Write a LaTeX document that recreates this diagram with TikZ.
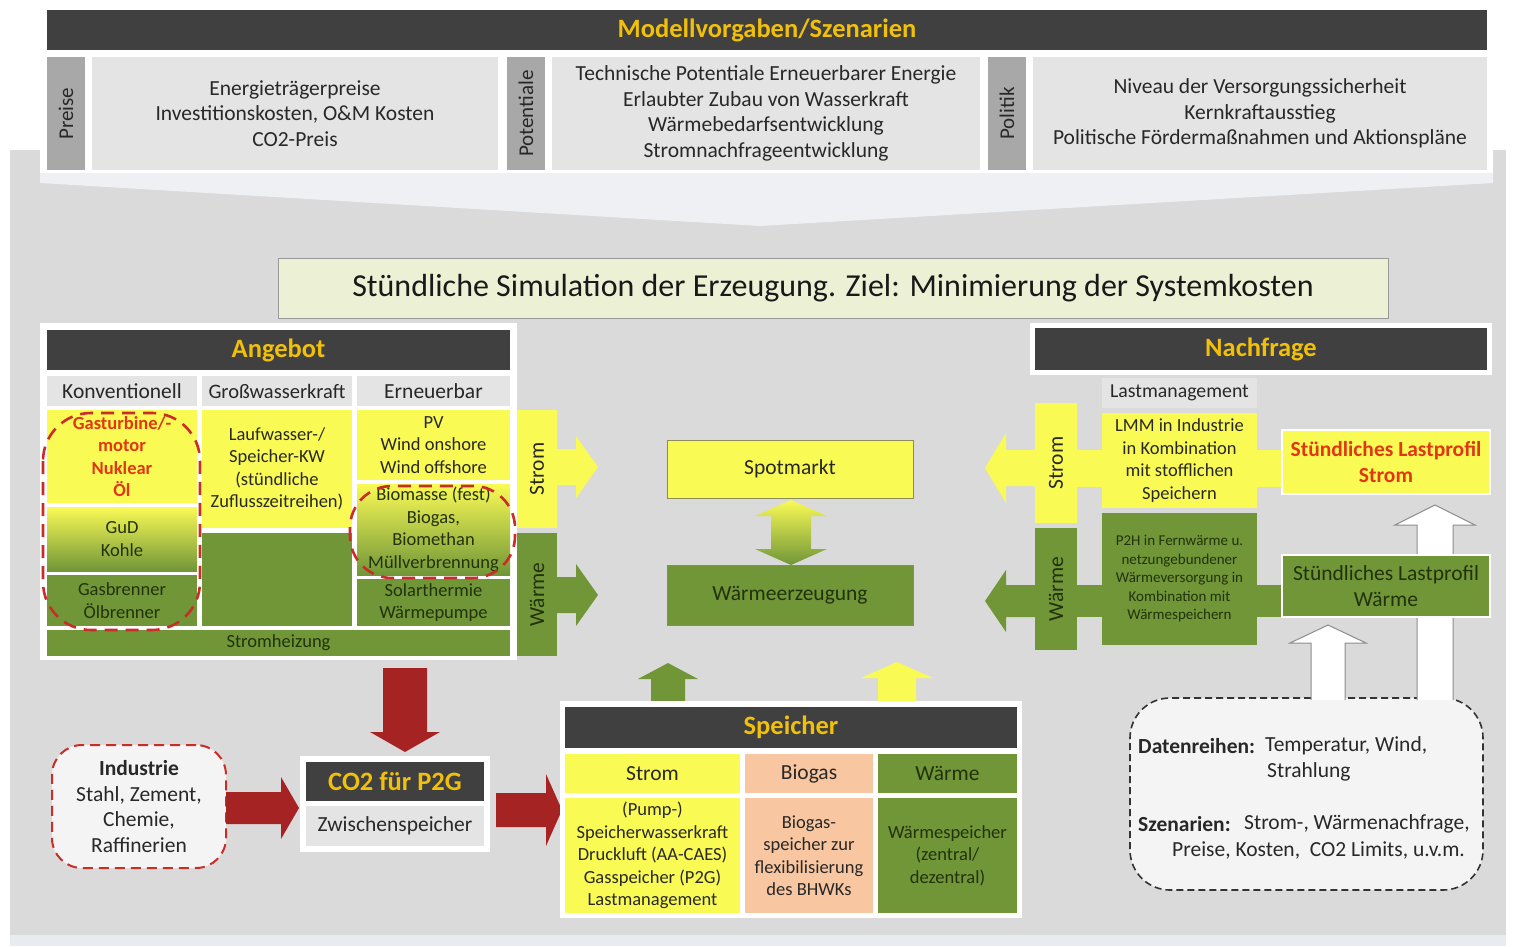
\documentclass[tikz,border=0pt]{standalone}
\usepackage{fontspec}
\setmainfont{Carlito}
\usetikzlibrary{calc}
\definecolor{ylw}{RGB}{250,250,85}
\definecolor{grn}{RGB}{112,150,56}
\definecolor{drk}{RGB}{64,64,64}
\definecolor{gold}{RGB}{240,192,10}
\definecolor{lgr}{RGB}{228,228,228}
\definecolor{tabg}{RGB}{168,168,168}
\definecolor{bggr}{RGB}{218,218,218}
\definecolor{bstrip}{RGB}{232,236,240}
\definecolor{wedge}{RGB}{238,240,243}
\definecolor{peach}{RGB}{248,198,160}
\definecolor{rd}{RGB}{165,35,35}
\definecolor{rdd}{RGB}{200,45,40}
\definecolor{rtxt}{RGB}{225,55,20}
\definecolor{txt}{RGB}{40,40,40}
\definecolor{gtxt}{RGB}{35,50,12}
\definecolor{ttl}{RGB}{236,240,212}
\definecolor{dbox}{RGB}{244,244,244}
\newcommand\fA{\fontsize{21.5}{25.7}\selectfont}
\newcommand\fB{\fontsize{18.5}{22.5}\selectfont}
\newcommand\fC{\fontsize{15}{18.5}\selectfont}
\newcommand\fH{\fontsize{26.5}{30}\selectfont\bfseries}
\newcommand\bx[7]{\node[#1, minimum width={(#5)-(#3)}, minimum height={(#6)-(#4)}, inner sep=0pt, align=center] (#2) at ({((#3)+(#5))/2},{((#4)+(#6))/2}) {#7};}
% right arrow: style, xstart, xtip, yc, shaft half, head half, head length
\newcommand\rarr[7]{\path[#1] (#2,{#4-#5}) -- ({#3-#7},{#4-#5}) -- ({#3-#7},{#4-#6}) -- (#3,#4) -- ({#3-#7},{#4+#6}) -- ({#3-#7},{#4+#5}) -- (#2,{#4+#5}) -- cycle;}
% left arrow: style, xtip, xend, yc, sh, hh, hl
\newcommand\larr[7]{\path[#1] (#3,{#4-#5}) -- ({#2+#7},{#4-#5}) -- ({#2+#7},{#4-#6}) -- (#2,#4) -- ({#2+#7},{#4+#6}) -- ({#2+#7},{#4+#5}) -- (#3,{#4+#5}) -- cycle;}
% up arrow: style, xc, ybot, ytip, sh, hh, hl
\newcommand\uarr[7]{\path[#1] ({#2-#5},#3) -- ({#2-#5},{#4+#7}) -- ({#2-#6},{#4+#7}) -- (#2,#4) -- ({#2+#6},{#4+#7}) -- ({#2+#5},{#4+#7}) -- ({#2+#5},#3) -- cycle;}
% down arrow: style, xc, ytop, ytip, sh, hh, hl
\newcommand\darr[7]{\path[#1] ({#2-#5},#3) -- ({#2-#5},{#4-#7}) -- ({#2-#6},{#4-#7}) -- (#2,#4) -- ({#2+#6},{#4-#7}) -- ({#2+#5},{#4-#7}) -- ({#2+#5},#3) -- cycle;}
% hollow up arrow, open at bottom: xc, ybot, ytip, sh, hh, hl
\newcommand\hollowup[6]{\fill[white] ({#1-#4},#2) -- ({#1-#4},{#3+#6}) -- ({#1-#5},{#3+#6}) -- (#1,#3) -- ({#1+#5},{#3+#6}) -- ({#1+#4},{#3+#6}) -- ({#1+#4},#2) -- cycle;
\draw[black!45, line width=1pt] ({#1-#4},#2) -- ({#1-#4},{#3+#6}) -- ({#1-#5},{#3+#6}) -- (#1,#3) -- ({#1+#5},{#3+#6}) -- ({#1+#4},{#3+#6}) -- ({#1+#4},#2);}
\begin{document}
\begin{tikzpicture}[x=1pt,y=-1pt,
  hdr/.style={fill=drk, text=gold, font=\fH},
  tab/.style={fill=tabg},
  cellg/.style={fill=lgr, text=txt, font=\fA},
  yc/.style={fill=ylw, text=txt, font=\fB},
  gc/.style={fill=grn, text=gtxt, font=\fB},
  grad/.style={top color=ylw, bottom color=grn, text=gtxt, font=\fB},
  vlab/.style={rotate=90, font=\fA},
  whiteframe/.style={fill=white},
  mbox/.style={draw={rgb,255:red,140;green,140;blue,90}, line width=0.8pt, font=\fA},
  reddash/.style={draw=rdd, line width=2.6pt, dash pattern=on 13pt off 8pt},
  redarrow/.style={fill=rd},
  ylwarrow/.style={fill=ylw},
  grnarrow/.style={fill=grn},
]
\useasboundingbox (0,0) rectangle (1516,946);
% backgrounds
\fill[white] (0,0) rectangle (1516,946);
\fill[bggr] (10,150) rectangle (1506,935);
\fill[bstrip] (10,935) rectangle (1506,946);
\fill[white] (40,52) rectangle (1493,173);
\fill[wedge] (40,173) -- (1493,173) -- (1493,183) -- (760,226) -- (40,183) -- cycle;

% ---- top: Modellvorgaben
\bx{hdr}{mv}{47}{10}{1487}{50}{Modellvorgaben/Szenarien}
\bx{tab}{tpreise}{47}{57}{85}{170}{}
\node[vlab, text=txt, font=\fontsize{21}{24}\selectfont] (lpreise) at (tpreise) {Preise};
\bx{cellg}{cpreise}{92}{57}{498}{170}{Energieträgerpreise\\Investitionskosten, O\&M Kosten\\CO2-Preis}
\bx{tab}{tpot}{507}{57}{545}{170}{}
\node[vlab, text=txt, font=\fontsize{21}{24}\selectfont] (lpot) at (tpot) {Potentiale};
\bx{cellg}{cpot}{552}{57}{980}{170}{Technische Potentiale Erneuerbarer Energie\\Erlaubter Zubau von Wasserkraft\\Wärmebedarfsentwicklung\\Stromnachfrageentwicklung}
\bx{tab}{tpol}{988}{57}{1026}{170}{}
\node[vlab, text=txt, font=\fontsize{21}{24}\selectfont] (lpol) at (tpol) {Politik};
\bx{cellg}{cpol}{1033}{57}{1487}{170}{Niveau der Versorgungssicherheit\\Kernkraftausstieg\\Politische Fördermaßnahmen und Aktionspläne}

% ---- title
\bx{fill=ttl, draw=black!40, line width=0.8pt, text=black!90, font=\fontsize{32}{36}\selectfont}{title}{278}{258}{1388}{318}{Stündliche Simulation der Erzeugung. Ziel: Minimierung der Systemkosten}

% ---- Angebot
\bx{whiteframe}{angframe}{40}{323}{517}{660}{}
\bx{hdr}{angebot}{47}{330}{510}{370}{Angebot}
\bx{cellg}{konv}{47}{376}{197}{406}{Konventionell}
\bx{cellg, font=\fontsize{20.5}{24}\selectfont}{gross}{202}{376}{352}{406}{Großwasserkraft}
\bx{cellg}{erneu}{357}{376}{510}{406}{Erneuerbar}
\bx{yc, text=rtxt, font=\fB\bfseries}{k1}{47}{410}{197}{503}{Gasturbine/-\\motor\\Nuklear\\Öl}
\bx{grad}{k2}{47}{507}{197}{571}{GuD\\Kohle}
\bx{gc}{k3}{47}{575}{197}{626}{Gasbrenner\\Ölbrenner}
\bx{yc}{g1}{202}{410}{352}{528}{Laufwasser-/\\Speicher-KW\\(stündliche\\Zuflusszeitreihen)}
\bx{gc}{g2}{202}{533}{352}{626}{}
\bx{yc}{e1}{357}{410}{510}{480}{PV\\Wind onshore\\Wind offshore}
\bx{grad}{e2}{357}{484}{510}{575}{Biomasse (fest)\\Biogas,\\Biomethan\\Müllverbrennung}
\bx{gc}{e3}{357}{579}{510}{626}{Solarthermie\\Wärmepumpe}
\bx{gc}{sheiz}{47}{630}{510}{656}{Stromheizung}
\bx{fill=ylw}{astrom}{517}{410}{557}{528}{}
\node[vlab, text=txt] (astroml) at (astrom) {Strom};
\bx{fill=grn}{awaerme}{517}{533}{557}{656}{}
\node[vlab, text=gtxt] (awaermel) at (awaerme) {Wärme};
\draw[reddash, rounded corners=48pt] (43,413) rectangle (200,630);
\draw[reddash, rounded corners=42pt] (350,486) rectangle (515,578);

% ---- middle
\bx{mbox, fill=ylw, text=txt}{spot}{667}{440}{913}{498}{Spotmarkt}
\bx{mbox, fill=grn, text=gtxt}{wez}{667}{565}{913}{625}{Wärmeerzeugung}
\rarr{ylwarrow}{557}{598}{467}{18}{31}{22}
\rarr{grnarrow}{557}{598}{595}{18}{31}{22}
\path[top color=ylw, bottom color=grn] (771,516) -- (755,516) -- (791,500) -- (827,516) -- (811,516) -- (811,549) -- (827,549) -- (791,565) -- (755,549) -- (771,549) -- cycle;

% ---- Nachfrage
\bx{whiteframe}{nachframe}{1030}{323}{1492}{375}{}
\bx{hdr}{nachfrage}{1035}{328}{1487}{370}{Nachfrage}
\bx{cellg, font=\fontsize{19.8}{22}\selectfont}{lastm}{1102}{378}{1257}{408}{Lastmanagement}
\larr{ylwarrow}{985}{1036}{468}{18}{35}{21}
\larr{grnarrow}{985}{1036}{601}{16}{31}{21}
\fill[ylw] (1077,450) rectangle (1102,487);
\fill[ylw] (1257,450) rectangle (1282,487);
\fill[grn] (1077,585) rectangle (1102,617);
\fill[grn] (1257,585) rectangle (1282,617);
\bx{fill=ylw}{nstrom}{1035}{403}{1077}{523}{}
\node[vlab, text=txt] (nstroml) at (nstrom) {Strom};
\bx{fill=grn}{nwaerme}{1035}{528}{1077}{650}{}
\node[vlab, text=gtxt] (nwaermel) at (nwaerme) {Wärme};
\bx{yc}{lmm}{1102}{413}{1257}{508}{LMM in Industrie\\in Kombination\\mit stofflichen\\Speichern}
\bx{gc, font=\fC}{p2h}{1102}{513}{1257}{645}{P2H in Fernwärme u.\\netzungebundener\\Wärmeversorgung in\\Kombination mit\\Wärmespeichern}

% data box and hollow arrows
\bx{draw=black!80, dashed, line width=1.6pt, dash pattern=on 7pt off 4pt, rounded corners=40pt, fill=dbox}{data}{1130}{698}{1483}{890}{}
\hollowup{1435}{700}{505}{18}{40}{20}
\hollowup{1328}{700}{625}{17}{38}{18}
\bx{fill=ylw, draw=white, line width=2pt, text=rtxt, font=\fA\bfseries}{lpstrom}{1282}{430}{1490}{494}{Stündliches Lastprofil\\Strom}
\bx{fill=grn, draw=white, line width=2pt, text=gtxt, font=\fA}{lpwaerme}{1282}{555}{1490}{617}{Stündliches Lastprofil\\Wärme}
\begin{scope}[every node/.style={anchor=west, text=txt, font=\fontsize{21.5}{24}\selectfont, inner sep=0pt}]
\node (dr1) at (1138,746) {\bfseries Datenreihen:};
\node (dr2) at (1265,746) {Temperatur, Wind,};
\node (dr3) at (1267,772) {Strahlung};
\node (sz1) at (1138,824) {\bfseries Szenarien:};
\node (sz2) at (1244,824) {Strom-, Wärmenachfrage,};
\node (sz3) at (1172,850) {Preise, Kosten,\ \ CO2 Limits, u.v.m.};
\end{scope}

% ---- bottom left: Industrie / CO2
\bx{draw=rdd, line width=2pt, dash pattern=on 10pt off 6pt, rounded corners=30pt, fill=dbox, text=txt, font=\fA}{ind}{52}{745}{226}{868}{\textbf{Industrie}\\Stahl, Zement,\\Chemie,\\Raffinerien}
\bx{whiteframe}{co2frame}{300}{756}{490}{852}{}
\bx{hdr}{co2}{306}{762}{484}{801}{CO2 für P2G}
\bx{cellg}{zw}{306}{806}{484}{846}{Zwischenspeicher}
\darr{redarrow}{405}{668}{752}{22}{35}{20}
\rarr{redarrow}{226}{299}{808}{16}{31}{18}
\rarr{redarrow}{496}{562}{810}{17}{36}{16}

% ---- Speicher
\uarr{grnarrow}{668}{702}{663}{17}{30}{16}
\uarr{ylwarrow}{897}{702}{662}{19}{36}{16}
\bx{whiteframe}{spframe}{560}{701}{1022}{918}{}
\bx{hdr}{speicher}{565}{707}{1017}{748}{Speicher}
\bx{fill=ylw, text=txt, font=\fA}{sph1}{565}{754}{740}{793}{Strom}
\bx{fill=peach, text=txt, font=\fA}{sph2}{745}{754}{873}{793}{Biogas}
\bx{fill=grn, text=gtxt, font=\fA}{sph3}{878}{754}{1017}{793}{Wärme}
\bx{yc}{spc1}{565}{798}{740}{913}{(Pump-)\\Speicherwasserkraft\\Druckluft (AA-CAES)\\Gasspeicher (P2G)\\Lastmanagement}
\bx{fill=peach, text=txt, font=\fB}{spc2}{745}{798}{873}{913}{Biogas-\\speicher zur\\flexibilisierung\\des BHWKs}
\bx{gc}{spc3}{878}{798}{1017}{913}{Wärmespeicher\\(zentral/\\dezentral)}
\end{tikzpicture}
\end{document}
